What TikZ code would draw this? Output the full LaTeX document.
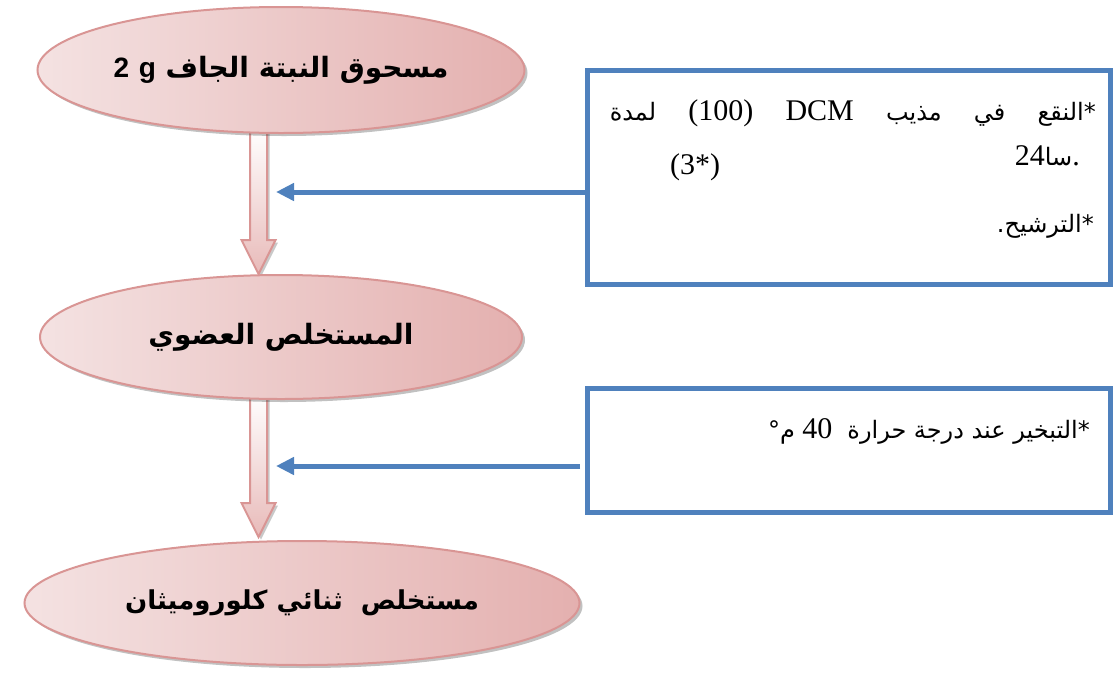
\documentclass[tikz,border=0pt]{standalone}
\usepackage{fontspec}
\setmainfont{Liberation Serif}
\newfontfamily\arabicfont[Script=Arabic]{DejaVu Sans}
\newfontfamily\arialfont{Liberation Sans}
\TeXXeTstate=1
\usetikzlibrary{shapes.geometric,shadows,arrows.meta,calc}
\pgfdeclarelayer{bg}
\pgfsetlayers{bg,main}
\definecolor{ellborder}{RGB}{217,149,148}
\definecolor{ellL}{RGB}{244,226,226}
\definecolor{ellR}{RGB}{228,176,175}
\definecolor{arrbot}{RGB}{232,186,185}
\definecolor{boxblue}{RGB}{79,129,189}
\newcommand{\arb}{\arabicfont\fontsize{24pt}{28pt}\selectfont}
\tikzset{
  ellnode/.style={ellipse, draw=ellborder, line width=2pt, left color=ellL, right color=ellR,
    inner sep=0pt, drop shadow={shadow xshift=3pt, shadow yshift=-3pt, opacity=0.35, fill=black!70},
    font=\arabicfont\bfseries\fontsize{28pt}{32pt}\selectfont},
  blockarr/.style={draw=ellborder, line width=2pt, top color=white, bottom color=arrbot, line join=miter,
    drop shadow={shadow xshift=2.5pt, shadow yshift=-2.5pt, opacity=0.3, fill=black!70}},
  bluebox/.style={draw=boxblue, line width=5pt, fill=white, inner sep=0pt},
  bluearr/.style={draw=boxblue, line width=5pt, -{Triangle[length=18pt,width=17pt]}},
  boxtxt/.style={inner sep=0pt, font=\fontsize{30pt}{34pt}\selectfont}
}
\begin{document}
\begin{tikzpicture}[x=1pt,y=-1pt]
\useasboundingbox (0,0) rectangle (1115,675);

% ellipses
\node[ellnode, minimum width=487pt, minimum height=126pt] (e1) at (281,70)
  {\beginR مسحوق النبتة الجاف {\arialfont g} {\arialfont 2}\endR\hspace{30pt}};
\node[ellnode, minimum width=482pt, minimum height=124pt] (e2) at (281,337)
  {\beginR المستخلص العضوي\endR\hspace{30pt}};
\node[ellnode, minimum width=555pt, minimum height=124pt, font=\arabicfont\bfseries\fontsize{26pt}{30pt}\selectfont] (e3) at (302,603)
  {\beginR مستخلص\ \ ثنائي كلوروميثان\endR\hspace{34pt}};

% block arrows between ellipses
\coordinate (a1s) at ([xshift=-22.5pt,yshift=6pt]e1.south);
\coordinate (a1e) at ([xshift=-22.5pt]e2.north);
\coordinate (a2s) at ([xshift=-22.5pt,yshift=6pt]e2.south);
\coordinate (a2e) at ([xshift=-43.5pt,yshift=3pt]e3.north);
\begin{pgfonlayer}{bg}
\path[blockarr] ($(a1s)+(-8.5,0)$) -- ($(a1e)+(-8.5,-34)$) -- ($(a1e)+(-17,-34)$) -- (a1e)
  -- ($(a1e)+(17,-34)$) -- ($(a1e)+(8.5,-34)$) -- ($(a1s)+(8.5,0)$) -- cycle;
\path[blockarr] ($(a2s)+(-8.5,0)$) -- ($(a2e)+(-8.5,-34)$) -- ($(a2e)+(-17,-34)$) -- (a2e)
  -- ($(a2e)+(17,-34)$) -- ($(a2e)+(8.5,-34)$) -- ($(a2s)+(8.5,0)$) -- cycle;
\end{pgfonlayer}

% boxes
\node[bluebox, minimum width=523pt, minimum height=214pt] (b1) at (849,177.5) {};
\node[bluebox, minimum width=523pt, minimum height=124pt] (b2) at (849,450) {};

% texts in box 1
\node[boxtxt, anchor=base east] (l1) at (1096,120)
  {\hbox to 486pt{\beginR{\arb *النقع}\hfill{\arb في}\hfill{\arb مذيب}\hfill DCM\hfill (100)\hfill{\arb لمدة}\endR}};
\node[boxtxt, anchor=base east] (l2) at (1080,165) {24{\arb سا}.};
\node[boxtxt, anchor=base] (l2b) at (695,174) {(3*)};
\node[boxtxt, anchor=base east] (l3) at (1094,232) {\beginR{\arb *الترشيح.}\endR};

% text in box 2
\node[boxtxt, anchor=base east] (l4) at (1090,438)
  {\beginR{\arb *التبخير عند درجة حرارة}\ \ 40 {\arb م°}\endR};

% blue connectors
\coordinate (h1) at (276,192);
\coordinate (h2) at (276,466);
\draw[bluearr] (b1.west |- h1) -- (h1);
\draw[bluearr] ([xshift=-5pt]b2.west |- h2) -- (h2);
\end{tikzpicture}
\end{document}
